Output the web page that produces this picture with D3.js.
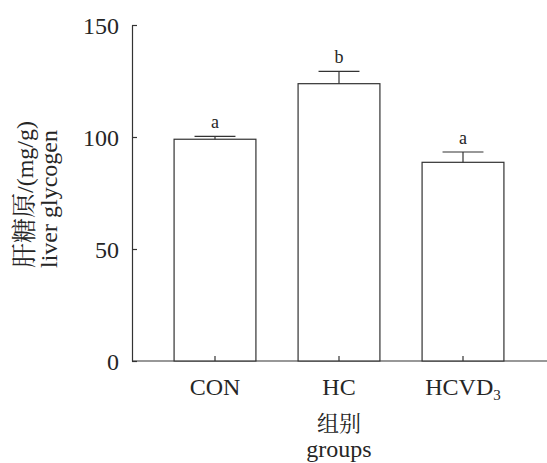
<!DOCTYPE html>
<html>
<head>
<meta charset="utf-8">
<script src="https://cdn.jsdelivr.net/npm/d3@7"></script>
<style>
  html, body { margin: 0; padding: 0; background: #fff; }
</style>
</head>
<body>
<div id="chart"></div>
<script>
// data
const groups = ["CON", "HC", "HCVD3"];
const means = [99.0, 123.8, 88.7];
const errors = [1.3, 5.5, 4.6];
const letters = ["a", "b", "a"];
const yTicks = [0, 50, 100, 150];

const SERIF = '"Liberation Serif", "Times New Roman", serif';
const CJK = '"Noto Serif CJK SC", "Noto Sans CJK SC", sans-serif';

function renderBarChart(containerId) {
  const width = 547;
  const height = 463;
  const stroke = "#333";
  const ink = "#262626";

  const svg = d3.select(containerId)
    .append("svg")
      .attr("width", width)
      .attr("height", height)
      .attr("viewBox", `0 0 ${width} ${height}`);

  const y = d3.scaleLinear().domain([0, 150]).range([361, 25]);
  const x = d3.scaleBand()
    .domain(groups)
    .range([153, 525])
    .paddingInner(0.34)
    .paddingOuter(0.17);

  // y axis (ticks inward)
  const yAxis = svg.append("g")
    .attr("transform", "translate(132,0)")
    .call(d3.axisRight(y).tickValues(yTicks).tickSize(5).tickSizeOuter(0).tickFormat(d3.format("d")));
  yAxis.select(".domain").attr("stroke", stroke).attr("stroke-width", 1.2);
  yAxis.selectAll(".tick line").attr("stroke", stroke).attr("stroke-width", 1.2);
  yAxis.selectAll(".tick text")
    .attr("x", -13)
    .attr("text-anchor", "end")
    .attr("dy", "0.35em")
    .attr("fill", ink)
    .style("font-family", SERIF)
    .style("font-size", "24px");

  // x axis line across to the right edge
  svg.append("line")
    .attr("x1", 132).attr("x2", width)
    .attr("y1", y(0)).attr("y2", y(0))
    .attr("stroke", stroke).attr("stroke-width", 1.2);

  // bars
  svg.selectAll("rect.bar")
    .data(groups)
    .join("rect")
      .attr("class", "bar")
      .attr("x", d => x(d))
      .attr("y", (d, i) => y(means[i]))
      .attr("width", x.bandwidth())
      .attr("height", (d, i) => y(0) - y(means[i]))
      .attr("fill", "#fff")
      .attr("stroke", stroke)
      .attr("stroke-width", 1.2);

  // x ticks inward at bar centres
  svg.selectAll("line.xtick")
    .data(groups)
    .join("line")
      .attr("class", "xtick")
      .attr("x1", d => x(d) + x.bandwidth() / 2)
      .attr("x2", d => x(d) + x.bandwidth() / 2)
      .attr("y1", y(0))
      .attr("y2", y(0) - 5)
      .attr("stroke", stroke).attr("stroke-width", 1.2);

  // error bars
  const capHalf = x.bandwidth() / 4;
  const err = svg.selectAll("g.err")
    .data(groups)
    .join("g")
      .attr("class", "err");
  err.append("line")
    .attr("x1", d => x(d) + x.bandwidth() / 2)
    .attr("x2", d => x(d) + x.bandwidth() / 2)
    .attr("y1", (d, i) => y(means[i]))
    .attr("y2", (d, i) => y(means[i] + errors[i]))
    .attr("stroke", stroke).attr("stroke-width", 1.2);
  err.append("line")
    .attr("x1", d => x(d) + x.bandwidth() / 2 - capHalf)
    .attr("x2", d => x(d) + x.bandwidth() / 2 + capHalf)
    .attr("y1", (d, i) => y(means[i] + errors[i]))
    .attr("y2", (d, i) => y(means[i] + errors[i]))
    .attr("stroke", stroke).attr("stroke-width", 1.2);

  // significance letters
  svg.selectAll("text.sig")
    .data(groups)
    .join("text")
      .attr("class", "sig")
      .attr("x", d => x(d) + x.bandwidth() / 2)
      .attr("y", (d, i) => y(means[i] + errors[i]) - 8)
      .attr("text-anchor", "middle")
      .attr("fill", ink)
      .style("font-family", SERIF)
      .style("font-size", "18px")
      .text((d, i) => letters[i]);

  // category labels, with subscript 3 on VD3
  const cat = svg.selectAll("text.cat")
    .data(groups)
    .join("text")
      .attr("class", "cat")
      .attr("x", d => x(d) + x.bandwidth() / 2)
      .attr("y", 395)
      .attr("text-anchor", "middle")
      .attr("fill", ink)
      .style("font-family", SERIF)
      .style("font-size", "24px");
  cat.each(function(d) {
    const t = d3.select(this);
    if (d.endsWith("3")) {
      t.append("tspan").text(d.slice(0, -1));
      t.append("tspan").attr("dy", 5).style("font-size", "15px").text("3");
    } else {
      t.text(d);
    }
  });

  // x axis title
  const cx = (x.range()[0] + x.range()[1]) / 2;
  svg.append("text")
    .attr("x", cx).attr("y", 431)
    .attr("text-anchor", "middle")
    .attr("fill", ink)
    .style("font-family", CJK)
    .style("font-size", "22px")
    .text("组别");
  svg.append("text")
    .attr("x", cx).attr("y", 457)
    .attr("text-anchor", "middle")
    .attr("fill", ink)
    .style("font-family", SERIF)
    .style("font-size", "24px")
    .text("groups");

  // y axis title, two rotated lines, both starting at the same bottom point
  const yt = svg.append("text")
    .attr("transform", "translate(33,268) rotate(-90)")
    .attr("text-anchor", "start")
    .attr("fill", ink)
    .style("font-family", SERIF)
    .style("font-size", "24px");
  yt.append("tspan").style("font-family", CJK).style("font-size", "25px").text("肝糖原");
  yt.append("tspan").text("/(mg/g)");
  svg.append("text")
    .attr("transform", "translate(57,268) rotate(-90)")
    .attr("text-anchor", "start")
    .attr("fill", ink)
    .style("font-family", SERIF)
    .style("font-size", "24px")
    .text("liver glycogen");
}

renderBarChart("#chart");
</script>
</body>
</html>
